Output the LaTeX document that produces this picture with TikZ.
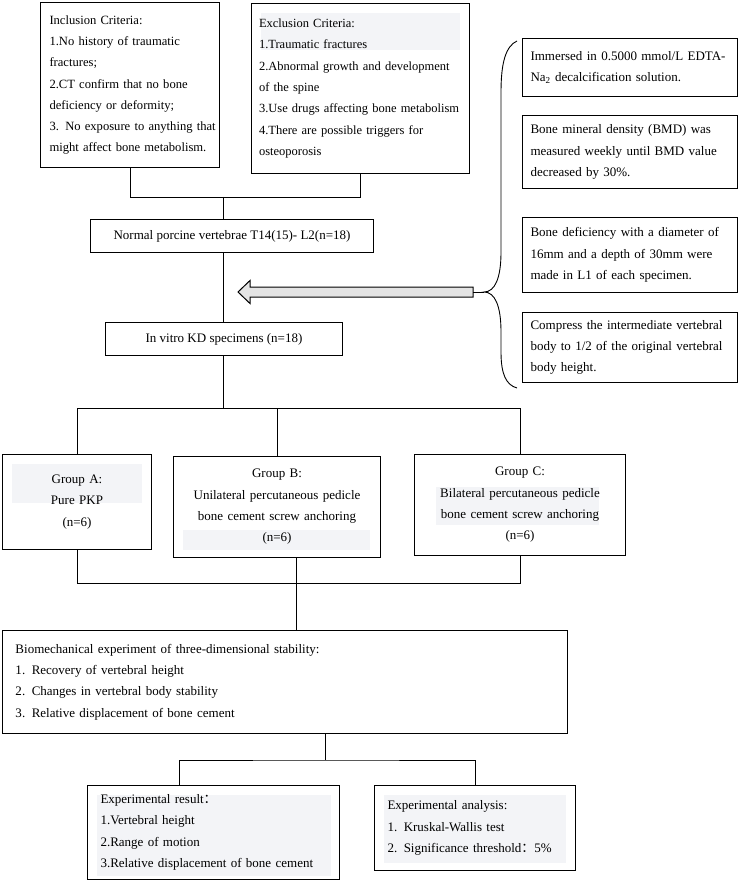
\documentclass[tikz,border=0pt]{standalone}
\usepackage{fontspec}
\setmainfont{Liberation Serif}
\newfontfamily\cjkfont{Noto Sans CJK SC}
\newcommand{\fullline}[1]{\makebox[\linewidth][s]{#1}}
\newcommand{\fwcolon}{{\cjkfont ：}}
\definecolor{hl}{RGB}{243,244,247}
\definecolor{arrowgray}{RGB}{228,228,228}
\begin{document}
\begin{tikzpicture}[x=1pt,y=-1pt,
  box/.style={draw=black, line width=1pt, inner sep=0pt, anchor=north west,
    font=\fontsize{13}{21.3}\selectfont},
  link/.style={draw=black, line width=0.9pt},
  band/.style={fill=hl, draw=none}
]
\useasboundingbox (0,0) rectangle (740,882);
% faint highlight bands
\fill[band] (261,13) rectangle (460,50);
\fill[band] (12,464) rectangle (142,503);
\fill[band] (183,530) rectangle (370,550);
\fill[band] (436,487) rectangle (599,525);
\fill[band] (97,795) rectangle (331,876);
\fill[band] (384,795) rectangle (566,863);

% top boxes
\node[box, minimum width=179pt, minimum height=165pt, text width=161pt, align=left,
  font=\fontsize{12.6}{21.3}\selectfont] (incl) at (40,2) {%
Inclusion Criteria:\\
\fullline{1.No history of traumatic}\\
fractures;\\
\fullline{2.CT confirm that no bone}\\
deficiency or deformity;\\
\fullline{3. No exposure to anything that}\\
might affect bone metabolism.};
\node[box, minimum width=218pt, minimum height=170pt, text width=203pt, align=left,
  font=\fontsize{12.5}{21.3}\selectfont] (excl) at (251,3) {%
Exclusion Criteria:\\
1.Traumatic fractures\\
\fullline{2.Abnormal growth and development}\\
of the spine\\
\fullline{3.Use drugs affecting bone metabolism}\\
\fullline{4.There are possible triggers for}\\
osteoporosis};

% right boxes
\node[box, minimum width=215pt, minimum height=58pt, text width=199pt, align=left] (r1) at (522,38) {%
\fullline{Immersed in 0.5000 mmol/L EDTA-}\\
Na\textsubscript{2} decalcification solution.};
\node[box, minimum width=215pt, minimum height=73pt, text width=199pt, align=left] (r2) at (522,115) {%
\fullline{Bone mineral density (BMD) was}\\
\fullline{measured weekly until BMD value}\\
decreased by 30\%.};
\node[box, minimum width=215pt, minimum height=75pt, text width=199pt, align=left] (r3) at (522,217) {%
\fullline{Bone deficiency with a diameter of}\\
\fullline{16mm and a depth of 30mm were}\\
made in L1 of each specimen.};
\node[box, minimum width=215pt, minimum height=70pt, text width=199pt, align=left] (r4) at (522,312) {%
\fullline{Compress the intermediate vertebral}\\
\fullline{body to 1/2 of the original vertebral}\\
body height.};

% main flow
\node[box, minimum width=283pt, minimum height=33pt] (normal) at (90,219) {Normal porcine vertebrae T14(15)- L2(n=18)};
\node[box, minimum width=237pt, minimum height=33pt] (kd) at (105,322) {In vitro KD specimens (n=18)};

\node[box, minimum width=149pt, minimum height=95pt, text width=140pt, align=center] (gA) at (2,454) {%
Group A:\\ Pure PKP\\ (n=6)};
\node[box, minimum width=207pt, minimum height=101pt, text width=200pt, align=center] (gB) at (173,456) {%
Group B:\\ Unilateral percutaneous pedicle\\ bone cement screw anchoring\\ (n=6)};
\node[box, minimum width=211pt, minimum height=101pt, text width=205pt, align=center] (gC) at (414,454) {%
Group C:\\ Bilateral percutaneous pedicle\\ bone cement screw anchoring\\ (n=6)};

\node[box, minimum width=565pt, minimum height=103pt, text width=539pt, align=left] (bio) at (2,630) {%
Biomechanical experiment of three-dimensional stability:\\
1. Recovery of vertebral height\\
2. Changes in vertebral body stability\\
3. Relative displacement of bone cement};

\node[box, minimum width=252pt, minimum height=94pt, text width=226pt, align=left] (res) at (87,785) {%
Experimental result\fwcolon\\
1.Vertebral height\\
2.Range of motion\\
3.Relative displacement of bone cement};
\node[box, minimum width=201pt, minimum height=85pt, text width=175pt, align=left] (ana) at (374,785) {%
Experimental analysis:\\
1. Kruskal-Wallis test\\
2. Significance threshold\fwcolon 5\%};

% connectors
\coordinate (j1) at (223,197);
\draw[link] (incl.south) |- (j1);
\draw[link] (excl.south) |- (j1);
\draw[link] (j1) -- (j1 |- normal.north);
\draw[link] (j1 |- normal.south) -- (j1 |- kd.north);

\coordinate (j2) at (223,408);
\draw[link] (j2 |- kd.south) -- (j2);
\draw[link] (gA.north) -- (gA.north |- j2) -- (gC.north |- j2) -- (gC.north);
\draw[link] (gB.north |- j2) -- (gB.north);

\coordinate (j3) at (296,583);
\draw[link] (gA.south) -- (gA.south |- j3) -- (gC.south |- j3) -- (gC.south);
\draw[link] (j3 |- gB.south) -- (j3 |- bio.north);

\coordinate (j4) at (325,760);
\draw[link] (j4 |- bio.south) -- (j4);
\draw[link] ([xshift=92pt]res.north west) |- (j4) -| (ana.north);

% block arrow and brace
\coordinate (atip) at (238,292);
\coordinate (atail) at (473,292);
\coordinate (btip) at (484,292);
\coordinate (btop) at (517,41);
\coordinate (bbot) at (517,388);
\draw[line width=1pt, fill=arrowgray] (atip) -- ++(12,-11.5) -- ++(0,6.5) -- ++(223,0) -- ++(0,10) -- ++(-223,0) -- ++(0,6.5) -- cycle;
\draw[link] (atail) -- (btip);
\draw[link] (btop) .. controls (506,46) and (501,62) .. (501,92) -- (501,252)
  .. controls (501,278) and (495,292) .. (btip)
  .. controls (495,292) and (501,306) .. (501,332) -- (501,352)
  .. controls (501,374) and (506,385) .. (bbot);
\end{tikzpicture}
\end{document}
